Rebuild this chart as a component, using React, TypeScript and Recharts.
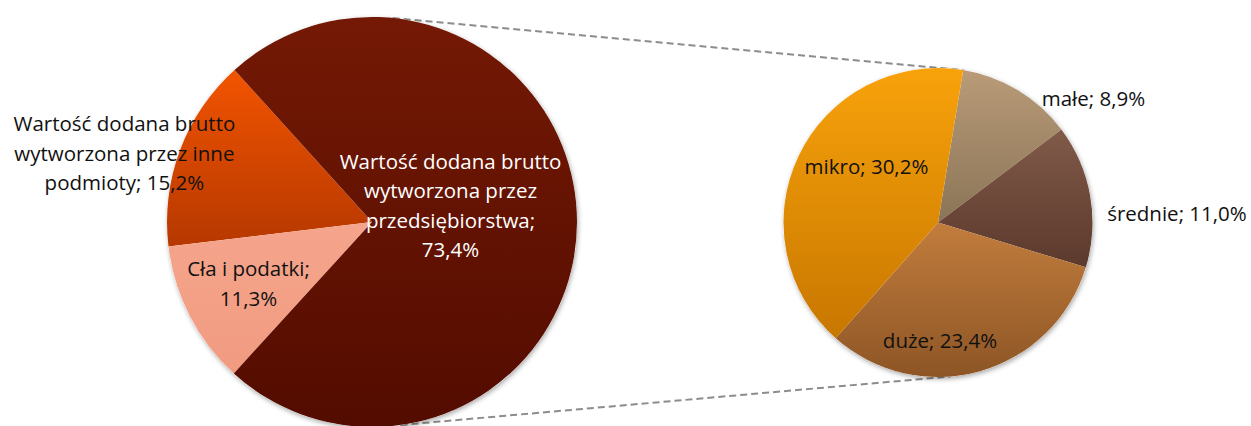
import { PieChart, Pie, Cell } from 'recharts';

// lewy wykres: struktura PKB
const LEFT_NAMES = [
  'Wartość dodana brutto\nwytworzona przez inne\npodmioty',
  'Cła i podatki',
  'Wartość dodana brutto\nwytworzona przez\nprzedsiębiorstwa',
];
const LEFT_VALUES = [15.2, 11.3, 73.4];
const LEFT_VALUE_NEW_LINE = [false, true, true];

// prawy wykres: przedsiębiorstwa wg wielkości
const RIGHT_NAMES = ['małe', 'średnie', 'duże', 'mikro'];
const RIGHT_VALUES = [8.9, 11.0, 23.4, 30.2];
const RIGHT_VALUE_NEW_LINE = [false, false, false, false];

const W = 1251;
const H = 426;
const FONT = '"Open Sans", sans-serif';
const FONT_SIZE = 20.5;

const LEFT = { cx: 372, cy: 222, r: 205, start: 132.12 };
const RIGHT = { cx: 938, cy: 222.5, r: 154.5, start: 80.6 };

// [top, bottom] gradient colours per slice
const LEFT_GRAD = [
  ['#f25400', '#b63800'],
  ['#f5a58c', '#f19b81'],
  ['#741905', '#530c00'],
];
const RIGHT_GRAD = [
  ['#b99b78', '#8a7457'],
  ['#805a49', '#5b392c'],
  ['#c27d3d', '#8d5525'],
  ['#f8a20b', '#c87700'],
];
const LEFT_TEXT = ['#111', '#111', '#fff'];

// [radius factor, angle] of each label centre
const LEFT_LABEL_POS = [[1.254, 164.4], [0.672, 206.3], [0.392, 12.2]];
const RIGHT_LABEL_POS = [[1.289, 38.7], [1.548, 2.3], [0.76, -89], [0.59, 141.7]];

// connector lines: [left pie angle, right pie angle]
const CONNECTORS = [[84.2, 80.6], [-82, -85.5]];

const leftData = LEFT_NAMES.map((name, i) => ({ name, value: LEFT_VALUES[i], br: LEFT_VALUE_NEW_LINE[i] }));
const rightData = RIGHT_NAMES.map((name, i) => ({ name, value: RIGHT_VALUES[i], br: RIGHT_VALUE_NEW_LINE[i] }));

const fmt = (v: number) => v.toFixed(1).replace('.', ',') + '%';
const rad = (a: number) => (a * Math.PI) / 180;

function makeLabel(geo: typeof LEFT, pos: number[][], data: any[], colors?: string[]) {
  return (props: any) => {
    const i = props.index;
    const d = data[i];
    const [f, a] = pos[i];
    const x = geo.cx + f * geo.r * Math.cos(rad(a));
    const y = geo.cy - f * geo.r * Math.sin(rad(a));
    const lines = (d.name + ';' + (d.br ? '\n' : ' ') + fmt(d.value)).split('\n');
    const lh = 29.5;
    const y0 = y - ((lines.length - 1) * lh) / 2;
    return (
      <text
        key={'l' + i}
        x={x}
        y={y0}
        textAnchor="middle"
        dominantBaseline="central"
        fill={colors ? colors[i] : '#111'}
        style={{ fontFamily: FONT, fontSize: FONT_SIZE }}
      >
        {lines.map((t, k) => (
          <tspan key={k} x={x} y={y0 + k * lh}>
            {t}
          </tspan>
        ))}
      </text>
    );
  };
}

function pt(geo: typeof LEFT, a: number) {
  return [geo.cx + geo.r * Math.cos(rad(a)), geo.cy - geo.r * Math.sin(rad(a))];
}

export default function App() {
  return (
    <div style={{ position: 'absolute', left: 0, top: 0, width: W, height: H, background: '#fff' }}>
      <svg width={W} height={H} style={{ position: 'absolute', left: 0, top: 0 }}>
        {CONNECTORS.map(([la, ra], i) => {
          const [x1, y1] = pt(LEFT, la);
          const [x2, y2] = pt(RIGHT, ra);
          return (
            <line key={i} x1={x1} y1={y1} x2={x2} y2={y2} stroke="#8c8c8c" strokeWidth={2} strokeDasharray="7 4" />
          );
        })}
      </svg>
      <div style={{ position: 'absolute', left: 0, top: 0 }}>
        <PieChart width={W} height={H} margin={{ top: 0, right: 0, bottom: 0, left: 0 }}>
          <defs>
            <filter id="pieShadow" x="-10%" y="-10%" width="120%" height="120%">
              <feDropShadow dx="1" dy="2" stdDeviation="2.5" floodColor="#000" floodOpacity="0.35" />
            </filter>
            {LEFT_GRAD.map((g, i) => (
              <linearGradient key={'lg' + i} id={'lg' + i} x1="0" y1="0" x2="0" y2="1">
                <stop offset="0%" stopColor={g[0]} />
                <stop offset="100%" stopColor={g[1]} />
              </linearGradient>
            ))}
            {RIGHT_GRAD.map((g, i) => (
              <linearGradient key={'rg' + i} id={'rg' + i} x1="0" y1="0" x2="0" y2="1">
                <stop offset="0%" stopColor={g[0]} />
                <stop offset="100%" stopColor={g[1]} />
              </linearGradient>
            ))}
          </defs>

          {/* cień pod kołami */}
          <Pie
            data={[{ value: 1 }]}
            dataKey="value"
            cx={LEFT.cx}
            cy={LEFT.cy}
            outerRadius={LEFT.r}
            stroke="none"
            isAnimationActive={false}
          >
            <Cell fill="#fff" filter="url(#pieShadow)" />
          </Pie>
          <Pie
            data={[{ value: 1 }]}
            dataKey="value"
            cx={RIGHT.cx}
            cy={RIGHT.cy}
            outerRadius={RIGHT.r}
            stroke="none"
            isAnimationActive={false}
          >
            <Cell fill="#fff" filter="url(#pieShadow)" />
          </Pie>

          <Pie
            data={leftData}
            dataKey="value"
            cx={LEFT.cx}
            cy={LEFT.cy}
            outerRadius={LEFT.r}
            startAngle={LEFT.start}
            endAngle={LEFT.start + 360}
            stroke="none"
            labelLine={false}
            label={makeLabel(LEFT, LEFT_LABEL_POS, leftData, LEFT_TEXT)}
            isAnimationActive={false}
          >
            {leftData.map((_, i) => (
              <Cell key={i} fill={`url(#lg${i})`} />
            ))}
          </Pie>

          <Pie
            data={rightData}
            dataKey="value"
            cx={RIGHT.cx}
            cy={RIGHT.cy}
            outerRadius={RIGHT.r}
            startAngle={RIGHT.start}
            endAngle={RIGHT.start - 360}
            stroke="none"
            labelLine={false}
            label={makeLabel(RIGHT, RIGHT_LABEL_POS, rightData)}
            isAnimationActive={false}
          >
            {rightData.map((_, i) => (
              <Cell key={i} fill={`url(#rg${i})`} />
            ))}
          </Pie>
        </PieChart>
      </div>
    </div>
  );
}
